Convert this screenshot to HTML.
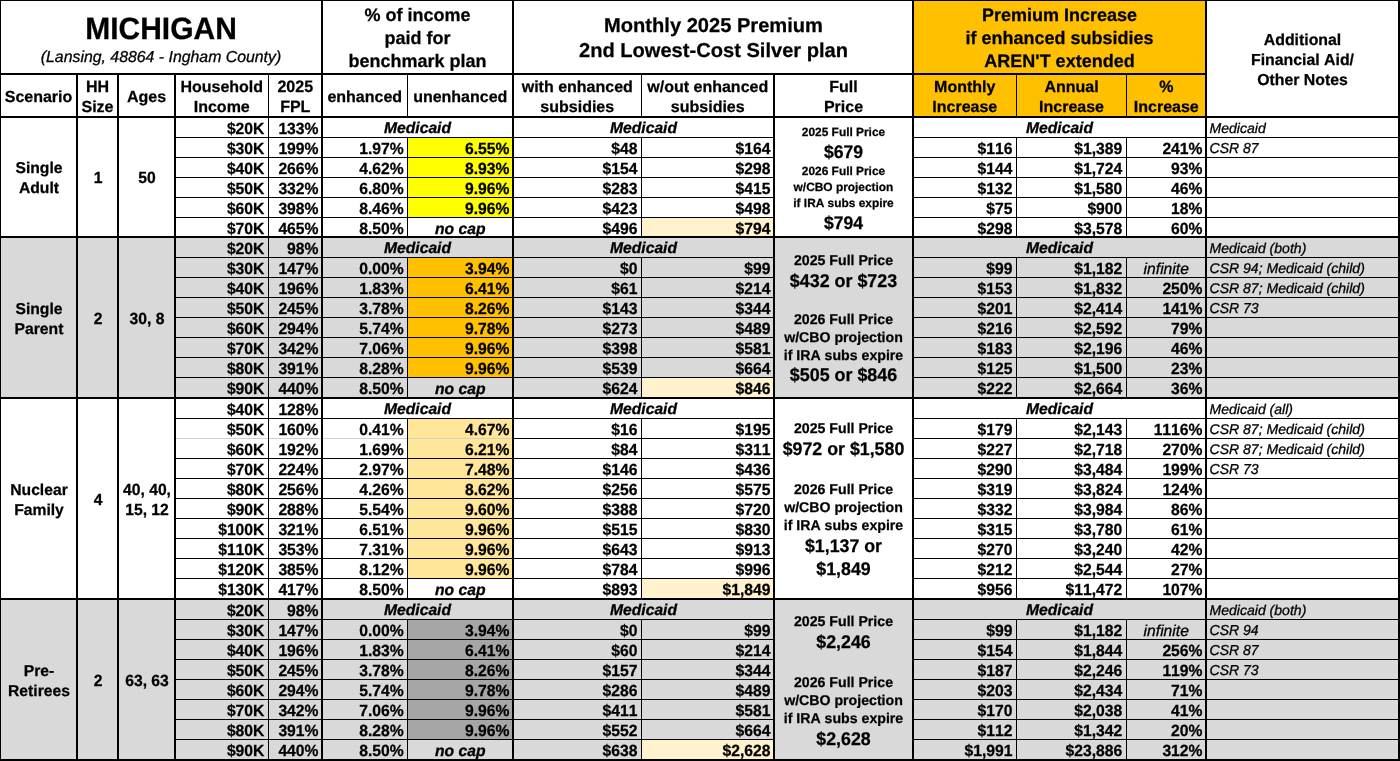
<!DOCTYPE html>
<html lang="en">
<head>
<meta charset="utf-8">
<title>Michigan - 2025 Premium Table</title>
<style>
html,body{margin:0;padding:0;background:#fff}
body{width:1400px;height:761px;overflow:hidden;position:relative;font-family:"Liberation Sans",sans-serif;color:#000}
.r{position:absolute}
.t{text-rendering:geometricPrecision;font-kerning:none;position:absolute;line-height:20px;height:20px;white-space:nowrap;overflow:visible}
.b{font-weight:bold;-webkit-text-stroke:0.25px #000}
.i{font-style:italic;-webkit-text-stroke:0.3px #000}
.bi{font-weight:bold;font-style:italic;-webkit-text-stroke:0.3px #000}
</style>
</head>
<body>
<div class="r" style="left:0.00px;top:0.00px;width:1400.00px;height:761.00px;background:#fff"></div>
<div class="r" style="left:913.00px;top:0.00px;width:293.00px;height:117.00px;background:#ffc000"></div>
<div class="r" style="left:407.50px;top:137.00px;width:105.50px;height:80.00px;background:#ffff00"></div>
<div class="r" style="left:641.50px;top:217.00px;width:132.50px;height:20.00px;background:#fff2cc"></div>
<div class="r" style="left:0.00px;top:237.00px;width:1400.00px;height:161.00px;background:#d9d9d9"></div>
<div class="r" style="left:407.50px;top:257.00px;width:105.50px;height:120.00px;background:#ffc000"></div>
<div class="r" style="left:641.50px;top:377.00px;width:132.50px;height:21.00px;background:#fff2cc"></div>
<div class="r" style="left:407.50px;top:418.00px;width:105.50px;height:160.00px;background:#ffe699"></div>
<div class="r" style="left:641.50px;top:578.00px;width:132.50px;height:21.00px;background:#fff2cc"></div>
<div class="r" style="left:0.00px;top:599.00px;width:1400.00px;height:160.00px;background:#d9d9d9"></div>
<div class="r" style="left:407.50px;top:619.00px;width:105.50px;height:120.00px;background:#a6a6a6"></div>
<div class="r" style="left:641.50px;top:739.00px;width:132.50px;height:20.00px;background:#fff2cc"></div>
<div class="r" style="left:175px;top:137px;width:599px;height:1px;background:#000"></div>
<div class="r" style="left:913px;top:137px;width:486px;height:1px;background:#000"></div>
<div class="r" style="left:175px;top:157px;width:599px;height:1px;background:#000"></div>
<div class="r" style="left:913px;top:157px;width:486px;height:1px;background:#000"></div>
<div class="r" style="left:175px;top:177px;width:599px;height:1px;background:#000"></div>
<div class="r" style="left:913px;top:177px;width:486px;height:1px;background:#000"></div>
<div class="r" style="left:175px;top:197px;width:599px;height:1px;background:#000"></div>
<div class="r" style="left:913px;top:197px;width:486px;height:1px;background:#000"></div>
<div class="r" style="left:175px;top:217px;width:599px;height:1px;background:#000"></div>
<div class="r" style="left:913px;top:217px;width:486px;height:1px;background:#000"></div>
<div class="r" style="left:175px;top:257px;width:599px;height:1px;background:#000"></div>
<div class="r" style="left:913px;top:257px;width:486px;height:1px;background:#000"></div>
<div class="r" style="left:175px;top:277px;width:599px;height:1px;background:#000"></div>
<div class="r" style="left:913px;top:277px;width:486px;height:1px;background:#000"></div>
<div class="r" style="left:175px;top:297px;width:599px;height:1px;background:#000"></div>
<div class="r" style="left:913px;top:297px;width:486px;height:1px;background:#000"></div>
<div class="r" style="left:175px;top:317px;width:599px;height:1px;background:#000"></div>
<div class="r" style="left:913px;top:317px;width:486px;height:1px;background:#000"></div>
<div class="r" style="left:175px;top:337px;width:599px;height:1px;background:#000"></div>
<div class="r" style="left:913px;top:337px;width:486px;height:1px;background:#000"></div>
<div class="r" style="left:175px;top:357px;width:599px;height:1px;background:#000"></div>
<div class="r" style="left:913px;top:357px;width:486px;height:1px;background:#000"></div>
<div class="r" style="left:175px;top:377px;width:599px;height:1px;background:#000"></div>
<div class="r" style="left:913px;top:377px;width:486px;height:1px;background:#000"></div>
<div class="r" style="left:175px;top:418px;width:599px;height:1px;background:#000"></div>
<div class="r" style="left:913px;top:418px;width:486px;height:1px;background:#000"></div>
<div class="r" style="left:175px;top:438px;width:599px;height:1px;background:#000"></div>
<div class="r" style="left:913px;top:438px;width:486px;height:1px;background:#000"></div>
<div class="r" style="left:175px;top:458px;width:599px;height:1px;background:#000"></div>
<div class="r" style="left:913px;top:458px;width:486px;height:1px;background:#000"></div>
<div class="r" style="left:175px;top:478px;width:599px;height:1px;background:#000"></div>
<div class="r" style="left:913px;top:478px;width:486px;height:1px;background:#000"></div>
<div class="r" style="left:175px;top:498px;width:599px;height:1px;background:#000"></div>
<div class="r" style="left:913px;top:498px;width:486px;height:1px;background:#000"></div>
<div class="r" style="left:175px;top:518px;width:599px;height:1px;background:#000"></div>
<div class="r" style="left:913px;top:518px;width:486px;height:1px;background:#000"></div>
<div class="r" style="left:175px;top:538px;width:599px;height:1px;background:#000"></div>
<div class="r" style="left:913px;top:538px;width:486px;height:1px;background:#000"></div>
<div class="r" style="left:175px;top:558px;width:599px;height:1px;background:#000"></div>
<div class="r" style="left:913px;top:558px;width:486px;height:1px;background:#000"></div>
<div class="r" style="left:175px;top:578px;width:599px;height:1px;background:#000"></div>
<div class="r" style="left:913px;top:578px;width:486px;height:1px;background:#000"></div>
<div class="r" style="left:175px;top:619px;width:599px;height:1px;background:#000"></div>
<div class="r" style="left:913px;top:619px;width:486px;height:1px;background:#000"></div>
<div class="r" style="left:175px;top:639px;width:599px;height:1px;background:#000"></div>
<div class="r" style="left:913px;top:639px;width:486px;height:1px;background:#000"></div>
<div class="r" style="left:175px;top:659px;width:599px;height:1px;background:#000"></div>
<div class="r" style="left:913px;top:659px;width:486px;height:1px;background:#000"></div>
<div class="r" style="left:175px;top:679px;width:599px;height:1px;background:#000"></div>
<div class="r" style="left:913px;top:679px;width:486px;height:1px;background:#000"></div>
<div class="r" style="left:175px;top:699px;width:599px;height:1px;background:#000"></div>
<div class="r" style="left:913px;top:699px;width:486px;height:1px;background:#000"></div>
<div class="r" style="left:175px;top:719px;width:599px;height:1px;background:#000"></div>
<div class="r" style="left:913px;top:719px;width:486px;height:1px;background:#000"></div>
<div class="r" style="left:175px;top:739px;width:599px;height:1px;background:#000"></div>
<div class="r" style="left:913px;top:739px;width:486px;height:1px;background:#000"></div>
<div class="r" style="left:176px;top:438px;width:336px;height:1px;background:#d0d0d0"></div>
<div class="r" style="left:268px;top:74px;width:1px;height:687px;background:#000"></div>
<div class="r" style="left:407px;top:74px;width:1px;height:43px;background:#000"></div>
<div class="r" style="left:407px;top:137px;width:1px;height:100px;background:#000"></div>
<div class="r" style="left:407px;top:257px;width:1px;height:141px;background:#000"></div>
<div class="r" style="left:407px;top:418px;width:1px;height:181px;background:#000"></div>
<div class="r" style="left:407px;top:619px;width:1px;height:140px;background:#000"></div>
<div class="r" style="left:641px;top:74px;width:1px;height:43px;background:#000"></div>
<div class="r" style="left:641px;top:137px;width:1px;height:100px;background:#000"></div>
<div class="r" style="left:641px;top:257px;width:1px;height:141px;background:#000"></div>
<div class="r" style="left:641px;top:418px;width:1px;height:181px;background:#000"></div>
<div class="r" style="left:641px;top:619px;width:1px;height:140px;background:#000"></div>
<div class="r" style="left:1016px;top:74px;width:1px;height:43px;background:#000"></div>
<div class="r" style="left:1016px;top:137px;width:1px;height:100px;background:#000"></div>
<div class="r" style="left:1016px;top:257px;width:1px;height:141px;background:#000"></div>
<div class="r" style="left:1016px;top:418px;width:1px;height:181px;background:#000"></div>
<div class="r" style="left:1016px;top:619px;width:1px;height:140px;background:#000"></div>
<div class="r" style="left:1126px;top:74px;width:1px;height:43px;background:#000"></div>
<div class="r" style="left:1126px;top:137px;width:1px;height:100px;background:#000"></div>
<div class="r" style="left:1126px;top:257px;width:1px;height:141px;background:#000"></div>
<div class="r" style="left:1126px;top:418px;width:1px;height:181px;background:#000"></div>
<div class="r" style="left:1126px;top:619px;width:1px;height:140px;background:#000"></div>
<div class="r" style="left:76px;top:74px;width:2px;height:687px;background:#000"></div>
<div class="r" style="left:117px;top:74px;width:2px;height:687px;background:#000"></div>
<div class="r" style="left:174px;top:74px;width:2px;height:687px;background:#000"></div>
<div class="r" style="left:321px;top:0px;width:2px;height:761px;background:#000"></div>
<div class="r" style="left:512px;top:0px;width:2px;height:761px;background:#000"></div>
<div class="r" style="left:912px;top:0px;width:2px;height:761px;background:#000"></div>
<div class="r" style="left:1205px;top:0px;width:2px;height:761px;background:#000"></div>
<div class="r" style="left:773px;top:74px;width:2px;height:687px;background:#000"></div>
<div class="r" style="left:0.00px;top:0.00px;width:1.00px;height:761.00px;background:#000"></div>
<div class="r" style="left:1398.00px;top:0.00px;width:2.00px;height:761.00px;background:#000"></div>
<div class="r" style="left:0.00px;top:0.00px;width:1400.00px;height:1.00px;background:#000"></div>
<div class="r" style="left:0.00px;top:759.00px;width:1400.00px;height:2.00px;background:#000"></div>
<div class="r" style="left:0px;top:73px;width:1206px;height:2px;background:#000"></div>
<div class="r" style="left:0px;top:116px;width:1400px;height:2px;background:#000"></div>
<div class="r" style="left:0px;top:236px;width:1400px;height:2px;background:#000"></div>
<div class="r" style="left:0px;top:397px;width:1400px;height:2px;background:#000"></div>
<div class="r" style="left:0px;top:598px;width:1400px;height:2px;background:#000"></div>
<div class="t b" style="left:1.00px;top:20px;width:320.00px;font-size:30px;text-align:center;transform-origin:0 19px;transform:scaleY(1.03);">MICHIGAN</div>
<div class="t i" style="left:1.00px;top:48px;width:320.00px;font-size:15.85px;text-align:center;">(Lansing, 48864 - Ingham County)</div>
<div class="t b" style="left:323.00px;top:5px;width:189.00px;font-size:18px;text-align:center;">% of income</div>
<div class="t b" style="left:323.00px;top:28px;width:189.00px;font-size:18px;text-align:center;">paid for</div>
<div class="t b" style="left:323.00px;top:51px;width:189.00px;font-size:18px;text-align:center;">benchmark plan</div>
<div class="t b" style="left:514.00px;top:16px;width:399.00px;font-size:20.1px;text-align:center;">Monthly 2025 Premium</div>
<div class="t b" style="left:514.00px;top:41px;width:399.00px;font-size:20.1px;text-align:center;">2nd Lowest-Cost Silver plan</div>
<div class="t b" style="left:914.00px;top:5px;width:291.00px;font-size:18px;text-align:center;">Premium Increase</div>
<div class="t b" style="left:914.00px;top:28px;width:291.00px;font-size:18px;text-align:center;">if enhanced subsidies</div>
<div class="t b" style="left:914.00px;top:51px;width:291.00px;font-size:18px;text-align:center;">AREN'T extended</div>
<div class="t b" style="left:1207.00px;top:31px;width:191.00px;font-size:15.85px;text-align:center;">Additional</div>
<div class="t b" style="left:1207.00px;top:51px;width:191.00px;font-size:15.85px;text-align:center;">Financial Aid/</div>
<div class="t b" style="left:1207.00px;top:71px;width:191.00px;font-size:15.85px;text-align:center;">Other Notes</div>
<div class="t b" style="left:0.00px;top:88px;width:77.00px;font-size:16px;text-align:center;">Scenario</div>
<div class="t b" style="left:77.00px;top:78px;width:41.00px;font-size:16px;text-align:center;transform-origin:0 14px;transform:scaleY(1.03);">HH</div>
<div class="t b" style="left:77.00px;top:98px;width:41.00px;font-size:16px;text-align:center;">Size</div>
<div class="t b" style="left:118.00px;top:88px;width:57.00px;font-size:16px;text-align:center;">Ages</div>
<div class="t b" style="left:175.00px;top:78px;width:93.50px;font-size:16px;text-align:center;">Household</div>
<div class="t b" style="left:175.00px;top:98px;width:93.50px;font-size:16px;text-align:center;">Income</div>
<div class="t b" style="left:268.50px;top:78px;width:53.50px;font-size:16px;text-align:center;transform-origin:0 14px;transform:scaleY(1.03);">2025</div>
<div class="t b" style="left:268.50px;top:98px;width:53.50px;font-size:16px;text-align:center;transform-origin:0 14px;transform:scaleY(1.03);">FPL</div>
<div class="t b" style="left:322.00px;top:88px;width:85.50px;font-size:16px;text-align:center;">enhanced</div>
<div class="t b" style="left:407.50px;top:88px;width:105.50px;font-size:16px;text-align:center;">unenhanced</div>
<div class="t b" style="left:513.00px;top:78px;width:128.50px;font-size:16px;text-align:center;">with enhanced</div>
<div class="t b" style="left:513.00px;top:98px;width:128.50px;font-size:16px;text-align:center;">subsidies</div>
<div class="t b" style="left:641.50px;top:78px;width:132.50px;font-size:16px;text-align:center;">w/out enhanced</div>
<div class="t b" style="left:641.50px;top:98px;width:132.50px;font-size:16px;text-align:center;">subsidies</div>
<div class="t b" style="left:774.00px;top:78px;width:139.00px;font-size:16px;text-align:center;">Full</div>
<div class="t b" style="left:774.00px;top:98px;width:139.00px;font-size:16px;text-align:center;">Price</div>
<div class="t b" style="left:913.00px;top:78px;width:103.50px;font-size:16px;text-align:center;">Monthly</div>
<div class="t b" style="left:913.00px;top:98px;width:103.50px;font-size:16px;text-align:center;">Increase</div>
<div class="t b" style="left:1016.50px;top:78px;width:110.00px;font-size:16px;text-align:center;">Annual</div>
<div class="t b" style="left:1016.50px;top:98px;width:110.00px;font-size:16px;text-align:center;">Increase</div>
<div class="t b" style="left:1126.50px;top:78px;width:79.50px;font-size:16px;text-align:center;transform-origin:0 14px;transform:scaleY(1.03);">%</div>
<div class="t b" style="left:1126.50px;top:98px;width:79.50px;font-size:16px;text-align:center;">Increase</div>
<div class="t b" style="left:0.50px;top:159px;width:77.00px;font-size:15.7px;text-align:center;">Single</div>
<div class="t b" style="left:0.50px;top:179px;width:77.00px;font-size:15.7px;text-align:center;">Adult</div>
<div class="t b" style="left:77.50px;top:169px;width:41.00px;font-size:15.7px;text-align:center;transform-origin:0 14px;transform:scaleY(1.03);">1</div>
<div class="t b" style="left:118.50px;top:169px;width:57.00px;font-size:15.7px;text-align:center;transform-origin:0 14px;transform:scaleY(1.03);">50</div>
<div class="t b" style="left:175.00px;top:120px;width:89.40px;font-size:15.7px;text-align:right;transform-origin:0 14px;transform:scaleY(1.03);">$20K</div>
<div class="t b" style="left:268.50px;top:120px;width:50.00px;font-size:15.7px;text-align:right;transform-origin:0 14px;transform:scaleY(1.03);">133%</div>
<div class="t bi" style="left:322.00px;top:119px;width:191.00px;font-size:15.7px;text-align:center;">Medicaid</div>
<div class="t bi" style="left:513.00px;top:119px;width:261.00px;font-size:15.7px;text-align:center;">Medicaid</div>
<div class="t bi" style="left:913.00px;top:119px;width:293.00px;font-size:15.7px;text-align:center;">Medicaid</div>
<div class="t i" style="left:1209.50px;top:118px;width:188.50px;font-size:14.05px;text-align:left;">Medicaid</div>
<div class="t b" style="left:175.00px;top:140px;width:89.40px;font-size:15.7px;text-align:right;transform-origin:0 14px;transform:scaleY(1.03);">$30K</div>
<div class="t b" style="left:268.50px;top:140px;width:50.00px;font-size:15.7px;text-align:right;transform-origin:0 14px;transform:scaleY(1.03);">199%</div>
<div class="t b" style="left:322.00px;top:140px;width:81.70px;font-size:15.7px;text-align:right;transform-origin:0 14px;transform:scaleY(1.03);">1.97%</div>
<div class="t b" style="left:407.50px;top:140px;width:102.00px;font-size:15.7px;text-align:right;transform-origin:0 14px;transform:scaleY(1.03);">6.55%</div>
<div class="t b" style="left:513.00px;top:140px;width:124.50px;font-size:15.7px;text-align:right;transform-origin:0 14px;transform:scaleY(1.03);">$48</div>
<div class="t b" style="left:641.50px;top:140px;width:129.00px;font-size:15.7px;text-align:right;transform-origin:0 14px;transform:scaleY(1.03);">$164</div>
<div class="t b" style="left:913.00px;top:140px;width:99.50px;font-size:15.7px;text-align:right;transform-origin:0 14px;transform:scaleY(1.03);">$116</div>
<div class="t b" style="left:1016.50px;top:140px;width:105.80px;font-size:15.7px;text-align:right;transform-origin:0 14px;transform:scaleY(1.03);">$1,389</div>
<div class="t b" style="left:1126.50px;top:140px;width:76.00px;font-size:15.7px;text-align:right;transform-origin:0 14px;transform:scaleY(1.03);">241%</div>
<div class="t i" style="left:1209.50px;top:138px;width:188.50px;font-size:14.05px;text-align:left;transform-origin:0 15px;transform:scaleY(1.03);">CSR 87</div>
<div class="t b" style="left:175.00px;top:160px;width:89.40px;font-size:15.7px;text-align:right;transform-origin:0 14px;transform:scaleY(1.03);">$40K</div>
<div class="t b" style="left:268.50px;top:160px;width:50.00px;font-size:15.7px;text-align:right;transform-origin:0 14px;transform:scaleY(1.03);">266%</div>
<div class="t b" style="left:322.00px;top:160px;width:81.70px;font-size:15.7px;text-align:right;transform-origin:0 14px;transform:scaleY(1.03);">4.62%</div>
<div class="t b" style="left:407.50px;top:160px;width:102.00px;font-size:15.7px;text-align:right;transform-origin:0 14px;transform:scaleY(1.03);">8.93%</div>
<div class="t b" style="left:513.00px;top:160px;width:124.50px;font-size:15.7px;text-align:right;transform-origin:0 14px;transform:scaleY(1.03);">$154</div>
<div class="t b" style="left:641.50px;top:160px;width:129.00px;font-size:15.7px;text-align:right;transform-origin:0 14px;transform:scaleY(1.03);">$298</div>
<div class="t b" style="left:913.00px;top:160px;width:99.50px;font-size:15.7px;text-align:right;transform-origin:0 14px;transform:scaleY(1.03);">$144</div>
<div class="t b" style="left:1016.50px;top:160px;width:105.80px;font-size:15.7px;text-align:right;transform-origin:0 14px;transform:scaleY(1.03);">$1,724</div>
<div class="t b" style="left:1126.50px;top:160px;width:76.00px;font-size:15.7px;text-align:right;transform-origin:0 14px;transform:scaleY(1.03);">93%</div>
<div class="t b" style="left:175.00px;top:180px;width:89.40px;font-size:15.7px;text-align:right;transform-origin:0 14px;transform:scaleY(1.03);">$50K</div>
<div class="t b" style="left:268.50px;top:180px;width:50.00px;font-size:15.7px;text-align:right;transform-origin:0 14px;transform:scaleY(1.03);">332%</div>
<div class="t b" style="left:322.00px;top:180px;width:81.70px;font-size:15.7px;text-align:right;transform-origin:0 14px;transform:scaleY(1.03);">6.80%</div>
<div class="t b" style="left:407.50px;top:180px;width:102.00px;font-size:15.7px;text-align:right;transform-origin:0 14px;transform:scaleY(1.03);">9.96%</div>
<div class="t b" style="left:513.00px;top:180px;width:124.50px;font-size:15.7px;text-align:right;transform-origin:0 14px;transform:scaleY(1.03);">$283</div>
<div class="t b" style="left:641.50px;top:180px;width:129.00px;font-size:15.7px;text-align:right;transform-origin:0 14px;transform:scaleY(1.03);">$415</div>
<div class="t b" style="left:913.00px;top:180px;width:99.50px;font-size:15.7px;text-align:right;transform-origin:0 14px;transform:scaleY(1.03);">$132</div>
<div class="t b" style="left:1016.50px;top:180px;width:105.80px;font-size:15.7px;text-align:right;transform-origin:0 14px;transform:scaleY(1.03);">$1,580</div>
<div class="t b" style="left:1126.50px;top:180px;width:76.00px;font-size:15.7px;text-align:right;transform-origin:0 14px;transform:scaleY(1.03);">46%</div>
<div class="t b" style="left:175.00px;top:200px;width:89.40px;font-size:15.7px;text-align:right;transform-origin:0 14px;transform:scaleY(1.03);">$60K</div>
<div class="t b" style="left:268.50px;top:200px;width:50.00px;font-size:15.7px;text-align:right;transform-origin:0 14px;transform:scaleY(1.03);">398%</div>
<div class="t b" style="left:322.00px;top:200px;width:81.70px;font-size:15.7px;text-align:right;transform-origin:0 14px;transform:scaleY(1.03);">8.46%</div>
<div class="t b" style="left:407.50px;top:200px;width:102.00px;font-size:15.7px;text-align:right;transform-origin:0 14px;transform:scaleY(1.03);">9.96%</div>
<div class="t b" style="left:513.00px;top:200px;width:124.50px;font-size:15.7px;text-align:right;transform-origin:0 14px;transform:scaleY(1.03);">$423</div>
<div class="t b" style="left:641.50px;top:200px;width:129.00px;font-size:15.7px;text-align:right;transform-origin:0 14px;transform:scaleY(1.03);">$498</div>
<div class="t b" style="left:913.00px;top:200px;width:99.50px;font-size:15.7px;text-align:right;transform-origin:0 14px;transform:scaleY(1.03);">$75</div>
<div class="t b" style="left:1016.50px;top:200px;width:105.80px;font-size:15.7px;text-align:right;transform-origin:0 14px;transform:scaleY(1.03);">$900</div>
<div class="t b" style="left:1126.50px;top:200px;width:76.00px;font-size:15.7px;text-align:right;transform-origin:0 14px;transform:scaleY(1.03);">18%</div>
<div class="t b" style="left:175.00px;top:220px;width:89.40px;font-size:15.7px;text-align:right;transform-origin:0 14px;transform:scaleY(1.03);">$70K</div>
<div class="t b" style="left:268.50px;top:220px;width:50.00px;font-size:15.7px;text-align:right;transform-origin:0 14px;transform:scaleY(1.03);">465%</div>
<div class="t b" style="left:322.00px;top:220px;width:81.70px;font-size:15.7px;text-align:right;transform-origin:0 14px;transform:scaleY(1.03);">8.50%</div>
<div class="t bi" style="left:407.50px;top:220px;width:105.50px;font-size:15.7px;text-align:center;">no cap</div>
<div class="t b" style="left:513.00px;top:220px;width:124.50px;font-size:15.7px;text-align:right;transform-origin:0 14px;transform:scaleY(1.03);">$496</div>
<div class="t b" style="left:641.50px;top:220px;width:129.00px;font-size:15.7px;text-align:right;transform-origin:0 14px;transform:scaleY(1.03);">$794</div>
<div class="t b" style="left:913.00px;top:220px;width:99.50px;font-size:15.7px;text-align:right;transform-origin:0 14px;transform:scaleY(1.03);">$298</div>
<div class="t b" style="left:1016.50px;top:220px;width:105.80px;font-size:15.7px;text-align:right;transform-origin:0 14px;transform:scaleY(1.03);">$3,578</div>
<div class="t b" style="left:1126.50px;top:220px;width:76.00px;font-size:15.7px;text-align:right;transform-origin:0 14px;transform:scaleY(1.03);">60%</div>
<div class="t b" style="left:775.00px;top:122px;width:137.00px;font-size:11.9px;text-align:center;">2025 Full Price</div>
<div class="t b" style="left:775.00px;top:142px;width:137.00px;font-size:17.6px;text-align:center;transform-origin:0 16px;transform:scaleY(1.03);">$679</div>
<div class="t b" style="left:775.00px;top:161px;width:137.00px;font-size:11.9px;text-align:center;">2026 Full Price</div>
<div class="t b" style="left:775.00px;top:177px;width:137.00px;font-size:11.9px;text-align:center;">w/CBO projection</div>
<div class="t b" style="left:775.00px;top:193px;width:137.00px;font-size:11.9px;text-align:center;">if IRA subs expire</div>
<div class="t b" style="left:775.00px;top:213px;width:137.00px;font-size:17.6px;text-align:center;transform-origin:0 16px;transform:scaleY(1.03);">$794</div>
<div class="t b" style="left:0.50px;top:300px;width:77.00px;font-size:15.7px;text-align:center;">Single</div>
<div class="t b" style="left:0.50px;top:320px;width:77.00px;font-size:15.7px;text-align:center;">Parent</div>
<div class="t b" style="left:77.50px;top:310px;width:41.00px;font-size:15.7px;text-align:center;transform-origin:0 14px;transform:scaleY(1.03);">2</div>
<div class="t b" style="left:118.50px;top:310px;width:57.00px;font-size:15.7px;text-align:center;transform-origin:0 14px;transform:scaleY(1.03);">30, 8</div>
<div class="t b" style="left:175.00px;top:240px;width:89.40px;font-size:15.7px;text-align:right;transform-origin:0 14px;transform:scaleY(1.03);">$20K</div>
<div class="t b" style="left:268.50px;top:240px;width:50.00px;font-size:15.7px;text-align:right;transform-origin:0 14px;transform:scaleY(1.03);">98%</div>
<div class="t bi" style="left:322.00px;top:239px;width:191.00px;font-size:15.7px;text-align:center;">Medicaid</div>
<div class="t bi" style="left:513.00px;top:239px;width:261.00px;font-size:15.7px;text-align:center;">Medicaid</div>
<div class="t bi" style="left:913.00px;top:239px;width:293.00px;font-size:15.7px;text-align:center;">Medicaid</div>
<div class="t i" style="left:1209.50px;top:238px;width:188.50px;font-size:14.05px;text-align:left;">Medicaid (both)</div>
<div class="t b" style="left:175.00px;top:260px;width:89.40px;font-size:15.7px;text-align:right;transform-origin:0 14px;transform:scaleY(1.03);">$30K</div>
<div class="t b" style="left:268.50px;top:260px;width:50.00px;font-size:15.7px;text-align:right;transform-origin:0 14px;transform:scaleY(1.03);">147%</div>
<div class="t b" style="left:322.00px;top:260px;width:81.70px;font-size:15.7px;text-align:right;transform-origin:0 14px;transform:scaleY(1.03);">0.00%</div>
<div class="t b" style="left:407.50px;top:260px;width:102.00px;font-size:15.7px;text-align:right;transform-origin:0 14px;transform:scaleY(1.03);">3.94%</div>
<div class="t b" style="left:513.00px;top:260px;width:124.50px;font-size:15.7px;text-align:right;transform-origin:0 14px;transform:scaleY(1.03);">$0</div>
<div class="t b" style="left:641.50px;top:260px;width:129.00px;font-size:15.7px;text-align:right;transform-origin:0 14px;transform:scaleY(1.03);">$99</div>
<div class="t b" style="left:913.00px;top:260px;width:99.50px;font-size:15.7px;text-align:right;transform-origin:0 14px;transform:scaleY(1.03);">$99</div>
<div class="t b" style="left:1016.50px;top:260px;width:105.80px;font-size:15.7px;text-align:right;transform-origin:0 14px;transform:scaleY(1.03);">$1,182</div>
<div class="t i" style="left:1126.50px;top:260px;width:79.50px;font-size:15.7px;text-align:center;">infinite</div>
<div class="t i" style="left:1209.50px;top:258px;width:188.50px;font-size:14.05px;text-align:left;">CSR 94; Medicaid (child)</div>
<div class="t b" style="left:175.00px;top:280px;width:89.40px;font-size:15.7px;text-align:right;transform-origin:0 14px;transform:scaleY(1.03);">$40K</div>
<div class="t b" style="left:268.50px;top:280px;width:50.00px;font-size:15.7px;text-align:right;transform-origin:0 14px;transform:scaleY(1.03);">196%</div>
<div class="t b" style="left:322.00px;top:280px;width:81.70px;font-size:15.7px;text-align:right;transform-origin:0 14px;transform:scaleY(1.03);">1.83%</div>
<div class="t b" style="left:407.50px;top:280px;width:102.00px;font-size:15.7px;text-align:right;transform-origin:0 14px;transform:scaleY(1.03);">6.41%</div>
<div class="t b" style="left:513.00px;top:280px;width:124.50px;font-size:15.7px;text-align:right;transform-origin:0 14px;transform:scaleY(1.03);">$61</div>
<div class="t b" style="left:641.50px;top:280px;width:129.00px;font-size:15.7px;text-align:right;transform-origin:0 14px;transform:scaleY(1.03);">$214</div>
<div class="t b" style="left:913.00px;top:280px;width:99.50px;font-size:15.7px;text-align:right;transform-origin:0 14px;transform:scaleY(1.03);">$153</div>
<div class="t b" style="left:1016.50px;top:280px;width:105.80px;font-size:15.7px;text-align:right;transform-origin:0 14px;transform:scaleY(1.03);">$1,832</div>
<div class="t b" style="left:1126.50px;top:280px;width:76.00px;font-size:15.7px;text-align:right;transform-origin:0 14px;transform:scaleY(1.03);">250%</div>
<div class="t i" style="left:1209.50px;top:278px;width:188.50px;font-size:14.05px;text-align:left;">CSR 87; Medicaid (child)</div>
<div class="t b" style="left:175.00px;top:300px;width:89.40px;font-size:15.7px;text-align:right;transform-origin:0 14px;transform:scaleY(1.03);">$50K</div>
<div class="t b" style="left:268.50px;top:300px;width:50.00px;font-size:15.7px;text-align:right;transform-origin:0 14px;transform:scaleY(1.03);">245%</div>
<div class="t b" style="left:322.00px;top:300px;width:81.70px;font-size:15.7px;text-align:right;transform-origin:0 14px;transform:scaleY(1.03);">3.78%</div>
<div class="t b" style="left:407.50px;top:300px;width:102.00px;font-size:15.7px;text-align:right;transform-origin:0 14px;transform:scaleY(1.03);">8.26%</div>
<div class="t b" style="left:513.00px;top:300px;width:124.50px;font-size:15.7px;text-align:right;transform-origin:0 14px;transform:scaleY(1.03);">$143</div>
<div class="t b" style="left:641.50px;top:300px;width:129.00px;font-size:15.7px;text-align:right;transform-origin:0 14px;transform:scaleY(1.03);">$344</div>
<div class="t b" style="left:913.00px;top:300px;width:99.50px;font-size:15.7px;text-align:right;transform-origin:0 14px;transform:scaleY(1.03);">$201</div>
<div class="t b" style="left:1016.50px;top:300px;width:105.80px;font-size:15.7px;text-align:right;transform-origin:0 14px;transform:scaleY(1.03);">$2,414</div>
<div class="t b" style="left:1126.50px;top:300px;width:76.00px;font-size:15.7px;text-align:right;transform-origin:0 14px;transform:scaleY(1.03);">141%</div>
<div class="t i" style="left:1209.50px;top:298px;width:188.50px;font-size:14.05px;text-align:left;transform-origin:0 15px;transform:scaleY(1.03);">CSR 73</div>
<div class="t b" style="left:175.00px;top:320px;width:89.40px;font-size:15.7px;text-align:right;transform-origin:0 14px;transform:scaleY(1.03);">$60K</div>
<div class="t b" style="left:268.50px;top:320px;width:50.00px;font-size:15.7px;text-align:right;transform-origin:0 14px;transform:scaleY(1.03);">294%</div>
<div class="t b" style="left:322.00px;top:320px;width:81.70px;font-size:15.7px;text-align:right;transform-origin:0 14px;transform:scaleY(1.03);">5.74%</div>
<div class="t b" style="left:407.50px;top:320px;width:102.00px;font-size:15.7px;text-align:right;transform-origin:0 14px;transform:scaleY(1.03);">9.78%</div>
<div class="t b" style="left:513.00px;top:320px;width:124.50px;font-size:15.7px;text-align:right;transform-origin:0 14px;transform:scaleY(1.03);">$273</div>
<div class="t b" style="left:641.50px;top:320px;width:129.00px;font-size:15.7px;text-align:right;transform-origin:0 14px;transform:scaleY(1.03);">$489</div>
<div class="t b" style="left:913.00px;top:320px;width:99.50px;font-size:15.7px;text-align:right;transform-origin:0 14px;transform:scaleY(1.03);">$216</div>
<div class="t b" style="left:1016.50px;top:320px;width:105.80px;font-size:15.7px;text-align:right;transform-origin:0 14px;transform:scaleY(1.03);">$2,592</div>
<div class="t b" style="left:1126.50px;top:320px;width:76.00px;font-size:15.7px;text-align:right;transform-origin:0 14px;transform:scaleY(1.03);">79%</div>
<div class="t b" style="left:175.00px;top:340px;width:89.40px;font-size:15.7px;text-align:right;transform-origin:0 14px;transform:scaleY(1.03);">$70K</div>
<div class="t b" style="left:268.50px;top:340px;width:50.00px;font-size:15.7px;text-align:right;transform-origin:0 14px;transform:scaleY(1.03);">342%</div>
<div class="t b" style="left:322.00px;top:340px;width:81.70px;font-size:15.7px;text-align:right;transform-origin:0 14px;transform:scaleY(1.03);">7.06%</div>
<div class="t b" style="left:407.50px;top:340px;width:102.00px;font-size:15.7px;text-align:right;transform-origin:0 14px;transform:scaleY(1.03);">9.96%</div>
<div class="t b" style="left:513.00px;top:340px;width:124.50px;font-size:15.7px;text-align:right;transform-origin:0 14px;transform:scaleY(1.03);">$398</div>
<div class="t b" style="left:641.50px;top:340px;width:129.00px;font-size:15.7px;text-align:right;transform-origin:0 14px;transform:scaleY(1.03);">$581</div>
<div class="t b" style="left:913.00px;top:340px;width:99.50px;font-size:15.7px;text-align:right;transform-origin:0 14px;transform:scaleY(1.03);">$183</div>
<div class="t b" style="left:1016.50px;top:340px;width:105.80px;font-size:15.7px;text-align:right;transform-origin:0 14px;transform:scaleY(1.03);">$2,196</div>
<div class="t b" style="left:1126.50px;top:340px;width:76.00px;font-size:15.7px;text-align:right;transform-origin:0 14px;transform:scaleY(1.03);">46%</div>
<div class="t b" style="left:175.00px;top:360px;width:89.40px;font-size:15.7px;text-align:right;transform-origin:0 14px;transform:scaleY(1.03);">$80K</div>
<div class="t b" style="left:268.50px;top:360px;width:50.00px;font-size:15.7px;text-align:right;transform-origin:0 14px;transform:scaleY(1.03);">391%</div>
<div class="t b" style="left:322.00px;top:360px;width:81.70px;font-size:15.7px;text-align:right;transform-origin:0 14px;transform:scaleY(1.03);">8.28%</div>
<div class="t b" style="left:407.50px;top:360px;width:102.00px;font-size:15.7px;text-align:right;transform-origin:0 14px;transform:scaleY(1.03);">9.96%</div>
<div class="t b" style="left:513.00px;top:360px;width:124.50px;font-size:15.7px;text-align:right;transform-origin:0 14px;transform:scaleY(1.03);">$539</div>
<div class="t b" style="left:641.50px;top:360px;width:129.00px;font-size:15.7px;text-align:right;transform-origin:0 14px;transform:scaleY(1.03);">$664</div>
<div class="t b" style="left:913.00px;top:360px;width:99.50px;font-size:15.7px;text-align:right;transform-origin:0 14px;transform:scaleY(1.03);">$125</div>
<div class="t b" style="left:1016.50px;top:360px;width:105.80px;font-size:15.7px;text-align:right;transform-origin:0 14px;transform:scaleY(1.03);">$1,500</div>
<div class="t b" style="left:1126.50px;top:360px;width:76.00px;font-size:15.7px;text-align:right;transform-origin:0 14px;transform:scaleY(1.03);">23%</div>
<div class="t b" style="left:175.00px;top:380px;width:89.40px;font-size:15.7px;text-align:right;transform-origin:0 14px;transform:scaleY(1.03);">$90K</div>
<div class="t b" style="left:268.50px;top:380px;width:50.00px;font-size:15.7px;text-align:right;transform-origin:0 14px;transform:scaleY(1.03);">440%</div>
<div class="t b" style="left:322.00px;top:380px;width:81.70px;font-size:15.7px;text-align:right;transform-origin:0 14px;transform:scaleY(1.03);">8.50%</div>
<div class="t bi" style="left:407.50px;top:380px;width:105.50px;font-size:15.7px;text-align:center;">no cap</div>
<div class="t b" style="left:513.00px;top:380px;width:124.50px;font-size:15.7px;text-align:right;transform-origin:0 14px;transform:scaleY(1.03);">$624</div>
<div class="t b" style="left:641.50px;top:380px;width:129.00px;font-size:15.7px;text-align:right;transform-origin:0 14px;transform:scaleY(1.03);">$846</div>
<div class="t b" style="left:913.00px;top:380px;width:99.50px;font-size:15.7px;text-align:right;transform-origin:0 14px;transform:scaleY(1.03);">$222</div>
<div class="t b" style="left:1016.50px;top:380px;width:105.80px;font-size:15.7px;text-align:right;transform-origin:0 14px;transform:scaleY(1.03);">$2,664</div>
<div class="t b" style="left:1126.50px;top:380px;width:76.00px;font-size:15.7px;text-align:right;transform-origin:0 14px;transform:scaleY(1.03);">36%</div>
<div class="t b" style="left:775.00px;top:250px;width:137.00px;font-size:14.15px;text-align:center;">2025 Full Price</div>
<div class="t b" style="left:775.00px;top:271px;width:137.00px;font-size:17.9px;text-align:center;transform-origin:0 16px;transform:scaleY(1.03);">$432 or $723</div>
<div class="t b" style="left:775.00px;top:309px;width:137.00px;font-size:14.15px;text-align:center;">2026 Full Price</div>
<div class="t b" style="left:775.00px;top:327px;width:137.00px;font-size:14.15px;text-align:center;">w/CBO projection</div>
<div class="t b" style="left:775.00px;top:345px;width:137.00px;font-size:14.15px;text-align:center;">if IRA subs expire</div>
<div class="t b" style="left:775.00px;top:365px;width:137.00px;font-size:17.9px;text-align:center;transform-origin:0 16px;transform:scaleY(1.03);">$505 or $846</div>
<div class="t b" style="left:0.50px;top:481px;width:77.00px;font-size:15.7px;text-align:center;">Nuclear</div>
<div class="t b" style="left:0.50px;top:501px;width:77.00px;font-size:15.7px;text-align:center;">Family</div>
<div class="t b" style="left:77.50px;top:491px;width:41.00px;font-size:15.7px;text-align:center;transform-origin:0 14px;transform:scaleY(1.03);">4</div>
<div class="t b" style="left:118.50px;top:481px;width:57.00px;font-size:15.7px;text-align:center;transform-origin:0 14px;transform:scaleY(1.03);">40, 40,</div>
<div class="t b" style="left:118.50px;top:501px;width:57.00px;font-size:15.7px;text-align:center;transform-origin:0 14px;transform:scaleY(1.03);">15, 12</div>
<div class="t b" style="left:175.00px;top:401px;width:89.40px;font-size:15.7px;text-align:right;transform-origin:0 14px;transform:scaleY(1.03);">$40K</div>
<div class="t b" style="left:268.50px;top:401px;width:50.00px;font-size:15.7px;text-align:right;transform-origin:0 14px;transform:scaleY(1.03);">128%</div>
<div class="t bi" style="left:322.00px;top:400px;width:191.00px;font-size:15.7px;text-align:center;">Medicaid</div>
<div class="t bi" style="left:513.00px;top:400px;width:261.00px;font-size:15.7px;text-align:center;">Medicaid</div>
<div class="t bi" style="left:913.00px;top:400px;width:293.00px;font-size:15.7px;text-align:center;">Medicaid</div>
<div class="t i" style="left:1209.50px;top:399px;width:188.50px;font-size:14.05px;text-align:left;">Medicaid (all)</div>
<div class="t b" style="left:175.00px;top:421px;width:89.40px;font-size:15.7px;text-align:right;transform-origin:0 14px;transform:scaleY(1.03);">$50K</div>
<div class="t b" style="left:268.50px;top:421px;width:50.00px;font-size:15.7px;text-align:right;transform-origin:0 14px;transform:scaleY(1.03);">160%</div>
<div class="t b" style="left:322.00px;top:421px;width:81.70px;font-size:15.7px;text-align:right;transform-origin:0 14px;transform:scaleY(1.03);">0.41%</div>
<div class="t b" style="left:407.50px;top:421px;width:102.00px;font-size:15.7px;text-align:right;transform-origin:0 14px;transform:scaleY(1.03);">4.67%</div>
<div class="t b" style="left:513.00px;top:421px;width:124.50px;font-size:15.7px;text-align:right;transform-origin:0 14px;transform:scaleY(1.03);">$16</div>
<div class="t b" style="left:641.50px;top:421px;width:129.00px;font-size:15.7px;text-align:right;transform-origin:0 14px;transform:scaleY(1.03);">$195</div>
<div class="t b" style="left:913.00px;top:421px;width:99.50px;font-size:15.7px;text-align:right;transform-origin:0 14px;transform:scaleY(1.03);">$179</div>
<div class="t b" style="left:1016.50px;top:421px;width:105.80px;font-size:15.7px;text-align:right;transform-origin:0 14px;transform:scaleY(1.03);">$2,143</div>
<div class="t b" style="left:1126.50px;top:421px;width:76.00px;font-size:15.7px;text-align:right;transform-origin:0 14px;transform:scaleY(1.03);">1116%</div>
<div class="t i" style="left:1209.50px;top:419px;width:188.50px;font-size:14.05px;text-align:left;">CSR 87; Medicaid (child)</div>
<div class="t b" style="left:175.00px;top:441px;width:89.40px;font-size:15.7px;text-align:right;transform-origin:0 14px;transform:scaleY(1.03);">$60K</div>
<div class="t b" style="left:268.50px;top:441px;width:50.00px;font-size:15.7px;text-align:right;transform-origin:0 14px;transform:scaleY(1.03);">192%</div>
<div class="t b" style="left:322.00px;top:441px;width:81.70px;font-size:15.7px;text-align:right;transform-origin:0 14px;transform:scaleY(1.03);">1.69%</div>
<div class="t b" style="left:407.50px;top:441px;width:102.00px;font-size:15.7px;text-align:right;transform-origin:0 14px;transform:scaleY(1.03);">6.21%</div>
<div class="t b" style="left:513.00px;top:441px;width:124.50px;font-size:15.7px;text-align:right;transform-origin:0 14px;transform:scaleY(1.03);">$84</div>
<div class="t b" style="left:641.50px;top:441px;width:129.00px;font-size:15.7px;text-align:right;transform-origin:0 14px;transform:scaleY(1.03);">$311</div>
<div class="t b" style="left:913.00px;top:441px;width:99.50px;font-size:15.7px;text-align:right;transform-origin:0 14px;transform:scaleY(1.03);">$227</div>
<div class="t b" style="left:1016.50px;top:441px;width:105.80px;font-size:15.7px;text-align:right;transform-origin:0 14px;transform:scaleY(1.03);">$2,718</div>
<div class="t b" style="left:1126.50px;top:441px;width:76.00px;font-size:15.7px;text-align:right;transform-origin:0 14px;transform:scaleY(1.03);">270%</div>
<div class="t i" style="left:1209.50px;top:439px;width:188.50px;font-size:14.05px;text-align:left;">CSR 87; Medicaid (child)</div>
<div class="t b" style="left:175.00px;top:461px;width:89.40px;font-size:15.7px;text-align:right;transform-origin:0 14px;transform:scaleY(1.03);">$70K</div>
<div class="t b" style="left:268.50px;top:461px;width:50.00px;font-size:15.7px;text-align:right;transform-origin:0 14px;transform:scaleY(1.03);">224%</div>
<div class="t b" style="left:322.00px;top:461px;width:81.70px;font-size:15.7px;text-align:right;transform-origin:0 14px;transform:scaleY(1.03);">2.97%</div>
<div class="t b" style="left:407.50px;top:461px;width:102.00px;font-size:15.7px;text-align:right;transform-origin:0 14px;transform:scaleY(1.03);">7.48%</div>
<div class="t b" style="left:513.00px;top:461px;width:124.50px;font-size:15.7px;text-align:right;transform-origin:0 14px;transform:scaleY(1.03);">$146</div>
<div class="t b" style="left:641.50px;top:461px;width:129.00px;font-size:15.7px;text-align:right;transform-origin:0 14px;transform:scaleY(1.03);">$436</div>
<div class="t b" style="left:913.00px;top:461px;width:99.50px;font-size:15.7px;text-align:right;transform-origin:0 14px;transform:scaleY(1.03);">$290</div>
<div class="t b" style="left:1016.50px;top:461px;width:105.80px;font-size:15.7px;text-align:right;transform-origin:0 14px;transform:scaleY(1.03);">$3,484</div>
<div class="t b" style="left:1126.50px;top:461px;width:76.00px;font-size:15.7px;text-align:right;transform-origin:0 14px;transform:scaleY(1.03);">199%</div>
<div class="t i" style="left:1209.50px;top:459px;width:188.50px;font-size:14.05px;text-align:left;transform-origin:0 15px;transform:scaleY(1.03);">CSR 73</div>
<div class="t b" style="left:175.00px;top:481px;width:89.40px;font-size:15.7px;text-align:right;transform-origin:0 14px;transform:scaleY(1.03);">$80K</div>
<div class="t b" style="left:268.50px;top:481px;width:50.00px;font-size:15.7px;text-align:right;transform-origin:0 14px;transform:scaleY(1.03);">256%</div>
<div class="t b" style="left:322.00px;top:481px;width:81.70px;font-size:15.7px;text-align:right;transform-origin:0 14px;transform:scaleY(1.03);">4.26%</div>
<div class="t b" style="left:407.50px;top:481px;width:102.00px;font-size:15.7px;text-align:right;transform-origin:0 14px;transform:scaleY(1.03);">8.62%</div>
<div class="t b" style="left:513.00px;top:481px;width:124.50px;font-size:15.7px;text-align:right;transform-origin:0 14px;transform:scaleY(1.03);">$256</div>
<div class="t b" style="left:641.50px;top:481px;width:129.00px;font-size:15.7px;text-align:right;transform-origin:0 14px;transform:scaleY(1.03);">$575</div>
<div class="t b" style="left:913.00px;top:481px;width:99.50px;font-size:15.7px;text-align:right;transform-origin:0 14px;transform:scaleY(1.03);">$319</div>
<div class="t b" style="left:1016.50px;top:481px;width:105.80px;font-size:15.7px;text-align:right;transform-origin:0 14px;transform:scaleY(1.03);">$3,824</div>
<div class="t b" style="left:1126.50px;top:481px;width:76.00px;font-size:15.7px;text-align:right;transform-origin:0 14px;transform:scaleY(1.03);">124%</div>
<div class="t b" style="left:175.00px;top:501px;width:89.40px;font-size:15.7px;text-align:right;transform-origin:0 14px;transform:scaleY(1.03);">$90K</div>
<div class="t b" style="left:268.50px;top:501px;width:50.00px;font-size:15.7px;text-align:right;transform-origin:0 14px;transform:scaleY(1.03);">288%</div>
<div class="t b" style="left:322.00px;top:501px;width:81.70px;font-size:15.7px;text-align:right;transform-origin:0 14px;transform:scaleY(1.03);">5.54%</div>
<div class="t b" style="left:407.50px;top:501px;width:102.00px;font-size:15.7px;text-align:right;transform-origin:0 14px;transform:scaleY(1.03);">9.60%</div>
<div class="t b" style="left:513.00px;top:501px;width:124.50px;font-size:15.7px;text-align:right;transform-origin:0 14px;transform:scaleY(1.03);">$388</div>
<div class="t b" style="left:641.50px;top:501px;width:129.00px;font-size:15.7px;text-align:right;transform-origin:0 14px;transform:scaleY(1.03);">$720</div>
<div class="t b" style="left:913.00px;top:501px;width:99.50px;font-size:15.7px;text-align:right;transform-origin:0 14px;transform:scaleY(1.03);">$332</div>
<div class="t b" style="left:1016.50px;top:501px;width:105.80px;font-size:15.7px;text-align:right;transform-origin:0 14px;transform:scaleY(1.03);">$3,984</div>
<div class="t b" style="left:1126.50px;top:501px;width:76.00px;font-size:15.7px;text-align:right;transform-origin:0 14px;transform:scaleY(1.03);">86%</div>
<div class="t b" style="left:175.00px;top:521px;width:89.40px;font-size:15.7px;text-align:right;transform-origin:0 14px;transform:scaleY(1.03);">$100K</div>
<div class="t b" style="left:268.50px;top:521px;width:50.00px;font-size:15.7px;text-align:right;transform-origin:0 14px;transform:scaleY(1.03);">321%</div>
<div class="t b" style="left:322.00px;top:521px;width:81.70px;font-size:15.7px;text-align:right;transform-origin:0 14px;transform:scaleY(1.03);">6.51%</div>
<div class="t b" style="left:407.50px;top:521px;width:102.00px;font-size:15.7px;text-align:right;transform-origin:0 14px;transform:scaleY(1.03);">9.96%</div>
<div class="t b" style="left:513.00px;top:521px;width:124.50px;font-size:15.7px;text-align:right;transform-origin:0 14px;transform:scaleY(1.03);">$515</div>
<div class="t b" style="left:641.50px;top:521px;width:129.00px;font-size:15.7px;text-align:right;transform-origin:0 14px;transform:scaleY(1.03);">$830</div>
<div class="t b" style="left:913.00px;top:521px;width:99.50px;font-size:15.7px;text-align:right;transform-origin:0 14px;transform:scaleY(1.03);">$315</div>
<div class="t b" style="left:1016.50px;top:521px;width:105.80px;font-size:15.7px;text-align:right;transform-origin:0 14px;transform:scaleY(1.03);">$3,780</div>
<div class="t b" style="left:1126.50px;top:521px;width:76.00px;font-size:15.7px;text-align:right;transform-origin:0 14px;transform:scaleY(1.03);">61%</div>
<div class="t b" style="left:175.00px;top:541px;width:89.40px;font-size:15.7px;text-align:right;transform-origin:0 14px;transform:scaleY(1.03);">$110K</div>
<div class="t b" style="left:268.50px;top:541px;width:50.00px;font-size:15.7px;text-align:right;transform-origin:0 14px;transform:scaleY(1.03);">353%</div>
<div class="t b" style="left:322.00px;top:541px;width:81.70px;font-size:15.7px;text-align:right;transform-origin:0 14px;transform:scaleY(1.03);">7.31%</div>
<div class="t b" style="left:407.50px;top:541px;width:102.00px;font-size:15.7px;text-align:right;transform-origin:0 14px;transform:scaleY(1.03);">9.96%</div>
<div class="t b" style="left:513.00px;top:541px;width:124.50px;font-size:15.7px;text-align:right;transform-origin:0 14px;transform:scaleY(1.03);">$643</div>
<div class="t b" style="left:641.50px;top:541px;width:129.00px;font-size:15.7px;text-align:right;transform-origin:0 14px;transform:scaleY(1.03);">$913</div>
<div class="t b" style="left:913.00px;top:541px;width:99.50px;font-size:15.7px;text-align:right;transform-origin:0 14px;transform:scaleY(1.03);">$270</div>
<div class="t b" style="left:1016.50px;top:541px;width:105.80px;font-size:15.7px;text-align:right;transform-origin:0 14px;transform:scaleY(1.03);">$3,240</div>
<div class="t b" style="left:1126.50px;top:541px;width:76.00px;font-size:15.7px;text-align:right;transform-origin:0 14px;transform:scaleY(1.03);">42%</div>
<div class="t b" style="left:175.00px;top:561px;width:89.40px;font-size:15.7px;text-align:right;transform-origin:0 14px;transform:scaleY(1.03);">$120K</div>
<div class="t b" style="left:268.50px;top:561px;width:50.00px;font-size:15.7px;text-align:right;transform-origin:0 14px;transform:scaleY(1.03);">385%</div>
<div class="t b" style="left:322.00px;top:561px;width:81.70px;font-size:15.7px;text-align:right;transform-origin:0 14px;transform:scaleY(1.03);">8.12%</div>
<div class="t b" style="left:407.50px;top:561px;width:102.00px;font-size:15.7px;text-align:right;transform-origin:0 14px;transform:scaleY(1.03);">9.96%</div>
<div class="t b" style="left:513.00px;top:561px;width:124.50px;font-size:15.7px;text-align:right;transform-origin:0 14px;transform:scaleY(1.03);">$784</div>
<div class="t b" style="left:641.50px;top:561px;width:129.00px;font-size:15.7px;text-align:right;transform-origin:0 14px;transform:scaleY(1.03);">$996</div>
<div class="t b" style="left:913.00px;top:561px;width:99.50px;font-size:15.7px;text-align:right;transform-origin:0 14px;transform:scaleY(1.03);">$212</div>
<div class="t b" style="left:1016.50px;top:561px;width:105.80px;font-size:15.7px;text-align:right;transform-origin:0 14px;transform:scaleY(1.03);">$2,544</div>
<div class="t b" style="left:1126.50px;top:561px;width:76.00px;font-size:15.7px;text-align:right;transform-origin:0 14px;transform:scaleY(1.03);">27%</div>
<div class="t b" style="left:175.00px;top:581px;width:89.40px;font-size:15.7px;text-align:right;transform-origin:0 14px;transform:scaleY(1.03);">$130K</div>
<div class="t b" style="left:268.50px;top:581px;width:50.00px;font-size:15.7px;text-align:right;transform-origin:0 14px;transform:scaleY(1.03);">417%</div>
<div class="t b" style="left:322.00px;top:581px;width:81.70px;font-size:15.7px;text-align:right;transform-origin:0 14px;transform:scaleY(1.03);">8.50%</div>
<div class="t bi" style="left:407.50px;top:581px;width:105.50px;font-size:15.7px;text-align:center;">no cap</div>
<div class="t b" style="left:513.00px;top:581px;width:124.50px;font-size:15.7px;text-align:right;transform-origin:0 14px;transform:scaleY(1.03);">$893</div>
<div class="t b" style="left:641.50px;top:581px;width:129.00px;font-size:15.7px;text-align:right;transform-origin:0 14px;transform:scaleY(1.03);">$1,849</div>
<div class="t b" style="left:913.00px;top:581px;width:99.50px;font-size:15.7px;text-align:right;transform-origin:0 14px;transform:scaleY(1.03);">$956</div>
<div class="t b" style="left:1016.50px;top:581px;width:105.80px;font-size:15.7px;text-align:right;transform-origin:0 14px;transform:scaleY(1.03);">$11,472</div>
<div class="t b" style="left:1126.50px;top:581px;width:76.00px;font-size:15.7px;text-align:right;transform-origin:0 14px;transform:scaleY(1.03);">107%</div>
<div class="t b" style="left:775.00px;top:418px;width:137.00px;font-size:14.15px;text-align:center;">2025 Full Price</div>
<div class="t b" style="left:775.00px;top:439px;width:137.00px;font-size:17.8px;text-align:center;transform-origin:0 16px;transform:scaleY(1.03);">$972 or $1,580</div>
<div class="t b" style="left:775.00px;top:479px;width:137.00px;font-size:14.15px;text-align:center;">2026 Full Price</div>
<div class="t b" style="left:775.00px;top:497px;width:137.00px;font-size:14.15px;text-align:center;">w/CBO projection</div>
<div class="t b" style="left:775.00px;top:515px;width:137.00px;font-size:14.15px;text-align:center;">if IRA subs expire</div>
<div class="t b" style="left:775.00px;top:536px;width:137.00px;font-size:17.8px;text-align:center;transform-origin:0 16px;transform:scaleY(1.03);">$1,137 or</div>
<div class="t b" style="left:775.00px;top:559px;width:137.00px;font-size:17.8px;text-align:center;transform-origin:0 16px;transform:scaleY(1.03);">$1,849</div>
<div class="t b" style="left:0.50px;top:662px;width:77.00px;font-size:15.7px;text-align:center;">Pre-</div>
<div class="t b" style="left:0.50px;top:682px;width:77.00px;font-size:15.7px;text-align:center;">Retirees</div>
<div class="t b" style="left:77.50px;top:672px;width:41.00px;font-size:15.7px;text-align:center;transform-origin:0 14px;transform:scaleY(1.03);">2</div>
<div class="t b" style="left:118.50px;top:672px;width:57.00px;font-size:15.7px;text-align:center;transform-origin:0 14px;transform:scaleY(1.03);">63, 63</div>
<div class="t b" style="left:175.00px;top:602px;width:89.40px;font-size:15.7px;text-align:right;transform-origin:0 14px;transform:scaleY(1.03);">$20K</div>
<div class="t b" style="left:268.50px;top:602px;width:50.00px;font-size:15.7px;text-align:right;transform-origin:0 14px;transform:scaleY(1.03);">98%</div>
<div class="t bi" style="left:322.00px;top:601px;width:191.00px;font-size:15.7px;text-align:center;">Medicaid</div>
<div class="t bi" style="left:513.00px;top:601px;width:261.00px;font-size:15.7px;text-align:center;">Medicaid</div>
<div class="t bi" style="left:913.00px;top:601px;width:293.00px;font-size:15.7px;text-align:center;">Medicaid</div>
<div class="t i" style="left:1209.50px;top:600px;width:188.50px;font-size:14.05px;text-align:left;">Medicaid (both)</div>
<div class="t b" style="left:175.00px;top:622px;width:89.40px;font-size:15.7px;text-align:right;transform-origin:0 14px;transform:scaleY(1.03);">$30K</div>
<div class="t b" style="left:268.50px;top:622px;width:50.00px;font-size:15.7px;text-align:right;transform-origin:0 14px;transform:scaleY(1.03);">147%</div>
<div class="t b" style="left:322.00px;top:622px;width:81.70px;font-size:15.7px;text-align:right;transform-origin:0 14px;transform:scaleY(1.03);">0.00%</div>
<div class="t b" style="left:407.50px;top:622px;width:102.00px;font-size:15.7px;text-align:right;transform-origin:0 14px;transform:scaleY(1.03);">3.94%</div>
<div class="t b" style="left:513.00px;top:622px;width:124.50px;font-size:15.7px;text-align:right;transform-origin:0 14px;transform:scaleY(1.03);">$0</div>
<div class="t b" style="left:641.50px;top:622px;width:129.00px;font-size:15.7px;text-align:right;transform-origin:0 14px;transform:scaleY(1.03);">$99</div>
<div class="t b" style="left:913.00px;top:622px;width:99.50px;font-size:15.7px;text-align:right;transform-origin:0 14px;transform:scaleY(1.03);">$99</div>
<div class="t b" style="left:1016.50px;top:622px;width:105.80px;font-size:15.7px;text-align:right;transform-origin:0 14px;transform:scaleY(1.03);">$1,182</div>
<div class="t i" style="left:1126.50px;top:622px;width:79.50px;font-size:15.7px;text-align:center;">infinite</div>
<div class="t i" style="left:1209.50px;top:620px;width:188.50px;font-size:14.05px;text-align:left;transform-origin:0 15px;transform:scaleY(1.03);">CSR 94</div>
<div class="t b" style="left:175.00px;top:642px;width:89.40px;font-size:15.7px;text-align:right;transform-origin:0 14px;transform:scaleY(1.03);">$40K</div>
<div class="t b" style="left:268.50px;top:642px;width:50.00px;font-size:15.7px;text-align:right;transform-origin:0 14px;transform:scaleY(1.03);">196%</div>
<div class="t b" style="left:322.00px;top:642px;width:81.70px;font-size:15.7px;text-align:right;transform-origin:0 14px;transform:scaleY(1.03);">1.83%</div>
<div class="t b" style="left:407.50px;top:642px;width:102.00px;font-size:15.7px;text-align:right;transform-origin:0 14px;transform:scaleY(1.03);">6.41%</div>
<div class="t b" style="left:513.00px;top:642px;width:124.50px;font-size:15.7px;text-align:right;transform-origin:0 14px;transform:scaleY(1.03);">$60</div>
<div class="t b" style="left:641.50px;top:642px;width:129.00px;font-size:15.7px;text-align:right;transform-origin:0 14px;transform:scaleY(1.03);">$214</div>
<div class="t b" style="left:913.00px;top:642px;width:99.50px;font-size:15.7px;text-align:right;transform-origin:0 14px;transform:scaleY(1.03);">$154</div>
<div class="t b" style="left:1016.50px;top:642px;width:105.80px;font-size:15.7px;text-align:right;transform-origin:0 14px;transform:scaleY(1.03);">$1,844</div>
<div class="t b" style="left:1126.50px;top:642px;width:76.00px;font-size:15.7px;text-align:right;transform-origin:0 14px;transform:scaleY(1.03);">256%</div>
<div class="t i" style="left:1209.50px;top:640px;width:188.50px;font-size:14.05px;text-align:left;transform-origin:0 15px;transform:scaleY(1.03);">CSR 87</div>
<div class="t b" style="left:175.00px;top:662px;width:89.40px;font-size:15.7px;text-align:right;transform-origin:0 14px;transform:scaleY(1.03);">$50K</div>
<div class="t b" style="left:268.50px;top:662px;width:50.00px;font-size:15.7px;text-align:right;transform-origin:0 14px;transform:scaleY(1.03);">245%</div>
<div class="t b" style="left:322.00px;top:662px;width:81.70px;font-size:15.7px;text-align:right;transform-origin:0 14px;transform:scaleY(1.03);">3.78%</div>
<div class="t b" style="left:407.50px;top:662px;width:102.00px;font-size:15.7px;text-align:right;transform-origin:0 14px;transform:scaleY(1.03);">8.26%</div>
<div class="t b" style="left:513.00px;top:662px;width:124.50px;font-size:15.7px;text-align:right;transform-origin:0 14px;transform:scaleY(1.03);">$157</div>
<div class="t b" style="left:641.50px;top:662px;width:129.00px;font-size:15.7px;text-align:right;transform-origin:0 14px;transform:scaleY(1.03);">$344</div>
<div class="t b" style="left:913.00px;top:662px;width:99.50px;font-size:15.7px;text-align:right;transform-origin:0 14px;transform:scaleY(1.03);">$187</div>
<div class="t b" style="left:1016.50px;top:662px;width:105.80px;font-size:15.7px;text-align:right;transform-origin:0 14px;transform:scaleY(1.03);">$2,246</div>
<div class="t b" style="left:1126.50px;top:662px;width:76.00px;font-size:15.7px;text-align:right;transform-origin:0 14px;transform:scaleY(1.03);">119%</div>
<div class="t i" style="left:1209.50px;top:660px;width:188.50px;font-size:14.05px;text-align:left;transform-origin:0 15px;transform:scaleY(1.03);">CSR 73</div>
<div class="t b" style="left:175.00px;top:682px;width:89.40px;font-size:15.7px;text-align:right;transform-origin:0 14px;transform:scaleY(1.03);">$60K</div>
<div class="t b" style="left:268.50px;top:682px;width:50.00px;font-size:15.7px;text-align:right;transform-origin:0 14px;transform:scaleY(1.03);">294%</div>
<div class="t b" style="left:322.00px;top:682px;width:81.70px;font-size:15.7px;text-align:right;transform-origin:0 14px;transform:scaleY(1.03);">5.74%</div>
<div class="t b" style="left:407.50px;top:682px;width:102.00px;font-size:15.7px;text-align:right;transform-origin:0 14px;transform:scaleY(1.03);">9.78%</div>
<div class="t b" style="left:513.00px;top:682px;width:124.50px;font-size:15.7px;text-align:right;transform-origin:0 14px;transform:scaleY(1.03);">$286</div>
<div class="t b" style="left:641.50px;top:682px;width:129.00px;font-size:15.7px;text-align:right;transform-origin:0 14px;transform:scaleY(1.03);">$489</div>
<div class="t b" style="left:913.00px;top:682px;width:99.50px;font-size:15.7px;text-align:right;transform-origin:0 14px;transform:scaleY(1.03);">$203</div>
<div class="t b" style="left:1016.50px;top:682px;width:105.80px;font-size:15.7px;text-align:right;transform-origin:0 14px;transform:scaleY(1.03);">$2,434</div>
<div class="t b" style="left:1126.50px;top:682px;width:76.00px;font-size:15.7px;text-align:right;transform-origin:0 14px;transform:scaleY(1.03);">71%</div>
<div class="t b" style="left:175.00px;top:702px;width:89.40px;font-size:15.7px;text-align:right;transform-origin:0 14px;transform:scaleY(1.03);">$70K</div>
<div class="t b" style="left:268.50px;top:702px;width:50.00px;font-size:15.7px;text-align:right;transform-origin:0 14px;transform:scaleY(1.03);">342%</div>
<div class="t b" style="left:322.00px;top:702px;width:81.70px;font-size:15.7px;text-align:right;transform-origin:0 14px;transform:scaleY(1.03);">7.06%</div>
<div class="t b" style="left:407.50px;top:702px;width:102.00px;font-size:15.7px;text-align:right;transform-origin:0 14px;transform:scaleY(1.03);">9.96%</div>
<div class="t b" style="left:513.00px;top:702px;width:124.50px;font-size:15.7px;text-align:right;transform-origin:0 14px;transform:scaleY(1.03);">$411</div>
<div class="t b" style="left:641.50px;top:702px;width:129.00px;font-size:15.7px;text-align:right;transform-origin:0 14px;transform:scaleY(1.03);">$581</div>
<div class="t b" style="left:913.00px;top:702px;width:99.50px;font-size:15.7px;text-align:right;transform-origin:0 14px;transform:scaleY(1.03);">$170</div>
<div class="t b" style="left:1016.50px;top:702px;width:105.80px;font-size:15.7px;text-align:right;transform-origin:0 14px;transform:scaleY(1.03);">$2,038</div>
<div class="t b" style="left:1126.50px;top:702px;width:76.00px;font-size:15.7px;text-align:right;transform-origin:0 14px;transform:scaleY(1.03);">41%</div>
<div class="t b" style="left:175.00px;top:722px;width:89.40px;font-size:15.7px;text-align:right;transform-origin:0 14px;transform:scaleY(1.03);">$80K</div>
<div class="t b" style="left:268.50px;top:722px;width:50.00px;font-size:15.7px;text-align:right;transform-origin:0 14px;transform:scaleY(1.03);">391%</div>
<div class="t b" style="left:322.00px;top:722px;width:81.70px;font-size:15.7px;text-align:right;transform-origin:0 14px;transform:scaleY(1.03);">8.28%</div>
<div class="t b" style="left:407.50px;top:722px;width:102.00px;font-size:15.7px;text-align:right;transform-origin:0 14px;transform:scaleY(1.03);">9.96%</div>
<div class="t b" style="left:513.00px;top:722px;width:124.50px;font-size:15.7px;text-align:right;transform-origin:0 14px;transform:scaleY(1.03);">$552</div>
<div class="t b" style="left:641.50px;top:722px;width:129.00px;font-size:15.7px;text-align:right;transform-origin:0 14px;transform:scaleY(1.03);">$664</div>
<div class="t b" style="left:913.00px;top:722px;width:99.50px;font-size:15.7px;text-align:right;transform-origin:0 14px;transform:scaleY(1.03);">$112</div>
<div class="t b" style="left:1016.50px;top:722px;width:105.80px;font-size:15.7px;text-align:right;transform-origin:0 14px;transform:scaleY(1.03);">$1,342</div>
<div class="t b" style="left:1126.50px;top:722px;width:76.00px;font-size:15.7px;text-align:right;transform-origin:0 14px;transform:scaleY(1.03);">20%</div>
<div class="t b" style="left:175.00px;top:742px;width:89.40px;font-size:15.7px;text-align:right;transform-origin:0 14px;transform:scaleY(1.03);">$90K</div>
<div class="t b" style="left:268.50px;top:742px;width:50.00px;font-size:15.7px;text-align:right;transform-origin:0 14px;transform:scaleY(1.03);">440%</div>
<div class="t b" style="left:322.00px;top:742px;width:81.70px;font-size:15.7px;text-align:right;transform-origin:0 14px;transform:scaleY(1.03);">8.50%</div>
<div class="t bi" style="left:407.50px;top:742px;width:105.50px;font-size:15.7px;text-align:center;">no cap</div>
<div class="t b" style="left:513.00px;top:742px;width:124.50px;font-size:15.7px;text-align:right;transform-origin:0 14px;transform:scaleY(1.03);">$638</div>
<div class="t b" style="left:641.50px;top:742px;width:129.00px;font-size:15.7px;text-align:right;transform-origin:0 14px;transform:scaleY(1.03);">$2,628</div>
<div class="t b" style="left:913.00px;top:742px;width:99.50px;font-size:15.7px;text-align:right;transform-origin:0 14px;transform:scaleY(1.03);">$1,991</div>
<div class="t b" style="left:1016.50px;top:742px;width:105.80px;font-size:15.7px;text-align:right;transform-origin:0 14px;transform:scaleY(1.03);">$23,886</div>
<div class="t b" style="left:1126.50px;top:742px;width:76.00px;font-size:15.7px;text-align:right;transform-origin:0 14px;transform:scaleY(1.03);">312%</div>
<div class="t b" style="left:775.00px;top:611px;width:137.00px;font-size:14.15px;text-align:center;">2025 Full Price</div>
<div class="t b" style="left:775.00px;top:632px;width:137.00px;font-size:17.8px;text-align:center;transform-origin:0 16px;transform:scaleY(1.03);">$2,246</div>
<div class="t b" style="left:775.00px;top:672px;width:137.00px;font-size:14.15px;text-align:center;">2026 Full Price</div>
<div class="t b" style="left:775.00px;top:690px;width:137.00px;font-size:14.15px;text-align:center;">w/CBO projection</div>
<div class="t b" style="left:775.00px;top:708px;width:137.00px;font-size:14.15px;text-align:center;">if IRA subs expire</div>
<div class="t b" style="left:775.00px;top:729px;width:137.00px;font-size:17.8px;text-align:center;transform-origin:0 16px;transform:scaleY(1.03);">$2,628</div>
</body>
</html>
